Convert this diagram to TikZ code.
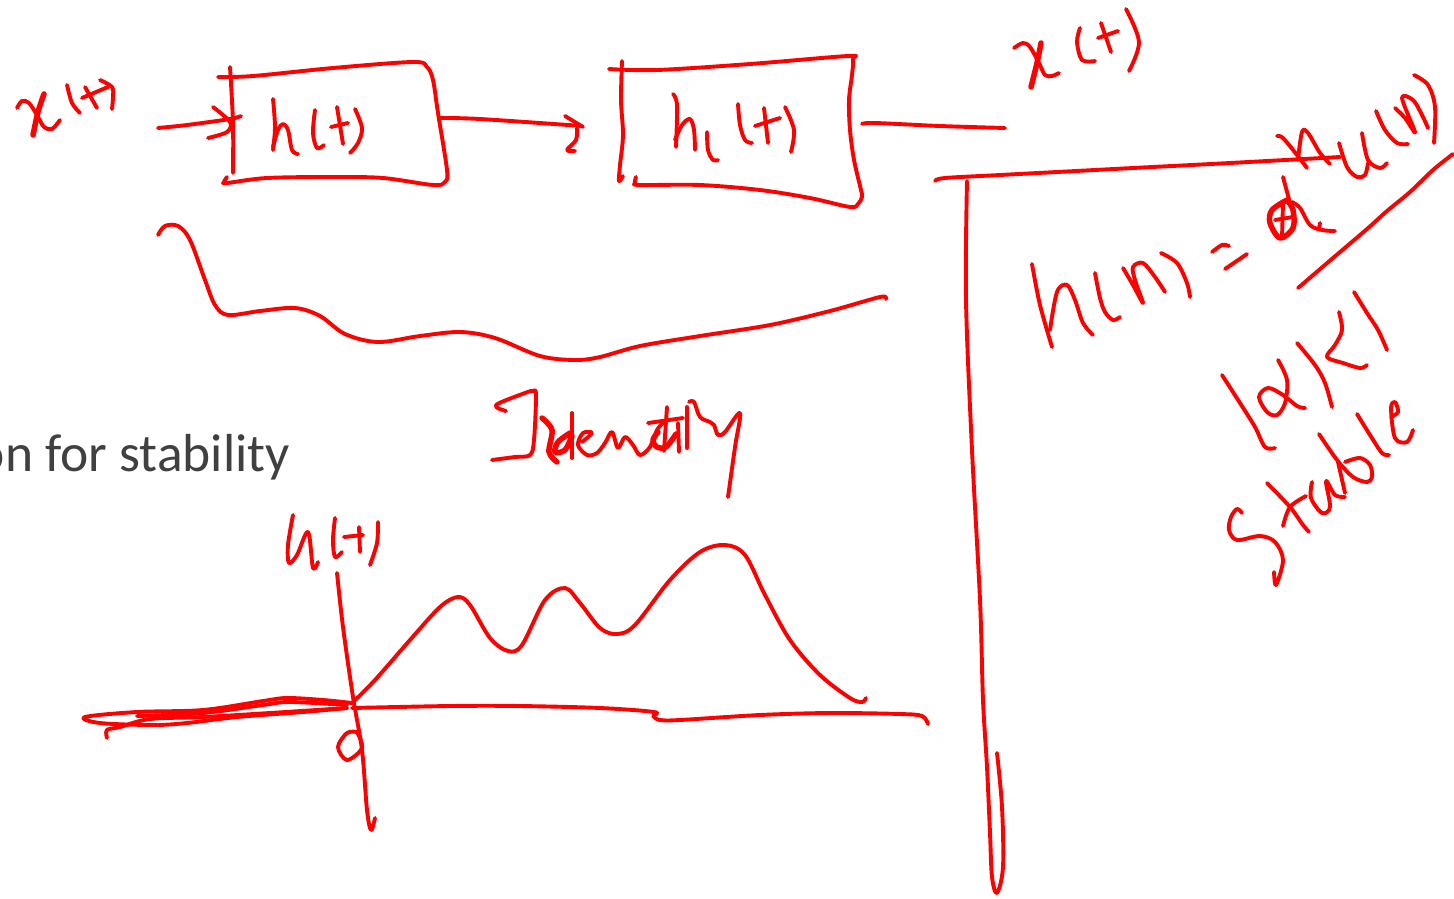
\documentclass[tikz,border=0pt]{standalone}
\usepackage{fontspec}
\setmainfont{Carlito}
\definecolor{inkred}{RGB}{255,0,0}
\definecolor{slidegray}{RGB}{64,64,64}
\tikzset{
  inkstroke/.style={draw=inkred,line width=3.9pt,line cap=round,line join=round},
  inkthick/.style={inkstroke,line width=5.5pt},
  slidetext/.style={text=slidegray,font=\fontsize{53.5}{58}\selectfont,inner sep=0pt}
}
\newcommand\ink[1]{\draw[inkstroke] plot[smooth,tension=.55] coordinates {#1};}
\newcommand\inkb[1]{\draw[inkthick] plot[smooth,tension=.55] coordinates {#1};}
\begin{document}
\begin{tikzpicture}[x=1pt,y=-1pt]
\useasboundingbox (0,0) rectangle (1454,898);
\node[slidetext,anchor=base east] (slideline) at (290,471) {on for stability};
% x(t) left
\ink{(17,108)(22,101)(29,103)(37,115)(44,127)(52,129)(60,120)}
\inkb{(44,94)(38,112)(33,135)}
\ink{(67,85)(72,103)(80,113)}
\ink{(82,98)(108,87)}
\ink{(85,87)(97,108)}
\ink{(100,80)(112,87)(113,97)(112,109)}
% input arrow
\ink{(158,128)(187,125)(230,119)(241,116)}
\ink{(213,107)(230,122)(227,132)(208,138)}
% box h
\ink{(218,77)(253,76)(333,68)(413,62)(427,67)(433,80)(438,113)(447,170)(445,182)(433,185)(383,178)(333,177)(267,178)(227,183)(224,182)(227,177)}
\ink{(230,67)(233,123)(233,173)}
\ink{(273,99)(275,127)(273,150)}
\ink{(273,147)(278,130)(283,124)(288,130)(292,150)(298,154)}
\ink{(315,110)(313,133)(317,148)(324,145)}
\ink{(331,127)(348,123)}
\ink{(337,107)(343,144)}
\ink{(355,109)(362,128)(358,143)(350,153)}
% middle arrow
\ink{(440,118)(480,119)(582,126)}
\ink{(565,116)(583,127)}
\ink{(577,128)(576,140)(567,150)(575,151)}
% box h1
\ink{(609,69)(657,70)(750,64)(848,56)(853,59)(852,75)(849,100)(850,130)(854,160)(861,190)(862,197)(858,204)(850,207)(810,198)(760,190)(700,185)(640,185)(635,183)(636,177)}
\ink{(622,61)(621,100)(623,135)(620,165)(619,181)(623,176)}
\ink{(673,94)(677,105)(676,147)}
\ink{(675,140)(682,125)(690,119)(694,130)(695,150)}
\ink{(707,132)(708,150)(713,160)(718,160)}
\ink{(738,104)(740,125)(745,140)(752,143)}
\ink{(755,126)(780,118)}
\ink{(764,108)(768,143)}
\ink{(785,107)(794,130)(791,152)}
\ink{(862,124)(875,123)(940,126)(1005,128)}
% x(t) right
\ink{(1014,48)(1023,43)(1030,47)(1039,63)(1045,75)(1052,76)(1059,73)}
\inkb{(1041,43)(1037,63)(1031,87)}
\ink{(1080,28)(1077,42)(1082,60)(1095,61)}
\ink{(1098,38)(1118,31)}
\ink{(1101,23)(1111,52)}
\ink{(1126,9)(1139,42)(1129,71)}
% wave
\ink{(158,235)(165,226)(178,226)(190,240)(205,280)(215,305)(228,315)(260,311)(295,308)(320,316)(345,334)(378,342)(420,336)(460,332)(495,338)(540,356)(575,360)(600,357)(640,346)(700,336)(770,325)(830,311)(880,297)(886,299)}
% Identity
\ink{(506,411)(496,405)(525,393)(533,391)(536,395)(534,440)(530,455)(515,457)(492,460)}
\inkb{(542,418)(552,430)(549,452)(557,462)}
\ink{(572,413)(572,458)}
\inkb{(570,433)(558,442)(555,452)(565,450)(572,436)}
\ink{(582,442)(592,433)(583,433)(578,445)(587,455)(597,453)(605,443)(612,432)(618,448)(625,437)(633,445)(640,455)(650,447)(657,430)(663,423)}
\ink{(667,407)(664,451)}
\ink{(648,423)(683,418)}
\inkb{(658,432)(653,440)(657,447)(666,447)(676,434)}
\ink{(678,423)(679,452)}
\ink{(687,407)(687,448)}
\ink{(689,402)(694,402)(700,417)(710,422)(714,425)(718,435)(725,432)(740,413)(735,447)(728,497)}
% u(t)
\ink{(293,515)(288,545)(289,563)(297,555)(308,532)(313,568)(318,562)}
\ink{(335,518)(333,540)(335,557)(342,552)}
\ink{(344,537)(363,535)}
\ink{(359,527)(360,552)}
\ink{(378,522)(377,543)(370,565)}
% axes
\ink{(337,573)(343,627)(353,697)(362,750)(367,810)(371,830)(375,818)}
\ink{(357,732)(347,733)(338,747)(347,760)(362,748)(357,732)}
\ink{(352,703)(323,700)(287,698)(263,701)(203,710)(137,712)(85,717)(100,723)(153,725)(187,723)(237,717)(303,712)(347,708)}
\ink{(347,708)(270,713)(203,717)(150,719)(120,727)(107,730)(107,738)}
\ink{(347,705)(290,702)(263,705)(203,713)(137,716)}
\ink{(352,708)(450,706)(520,706)(600,708)(654,712)(653,716)(660,720)(680,720)(760,715)(830,713)(900,714)(922,716)(928,724)}
\ink{(352,703)(375,680)(410,640)(440,607)(458,597)(470,605)(490,638)(508,651)(522,645)(545,600)(565,588)(580,603)(600,628)(617,634)(635,625)(670,580)(700,552)(725,545)(745,555)(765,595)(790,640)(820,675)(850,698)(862,702)(866,698)}
% big L
\ink{(935,181)(945,178)(1000,175)(1133,168)(1230,163)(1340,157)}
\ink{(967,181)(966,300)(972,450)(980,600)(983,700)(987,767)(990,833)(992,877)(997,893)(1003,867)(1002,807)(997,753)}
% alpha^n u(n)
\ink{(1277,136)(1283,138)(1297,155)(1307,168)}
\ink{(1298,160)(1302,132)(1308,133)(1320,153)(1330,164)}
\ink{(1339,143)(1347,167)(1357,177)(1365,175)(1368,163)}
\ink{(1362,133)(1368,160)(1380,168)(1387,163)}
\ink{(1376,111)(1385,130)(1397,143)(1408,144)}
\ink{(1395,108)(1405,118)(1415,132)(1402,98)(1413,100)(1422,115)(1428,128)}
\ink{(1414,75)(1428,85)(1435,107)(1434,143)}
\ink{(1298,288)(1333,258)(1367,229)(1387,211)(1410,192)(1433,170)(1453,154)}
% h(n) = alpha
\ink{(1283,177)(1290,203)}
\inkb{(1287,200)(1272,210)(1270,223)(1280,238)(1293,228)(1293,210)(1287,200)}
\ink{(1275,220)(1293,217)}
\ink{(1283,203)(1282,238)}
\ink{(1292,202)(1300,208)(1310,225)(1322,230)(1335,231)}
\ink{(1320,223)(1319,229)}
\ink{(1032,264)(1040,305)(1052,347)}
\ink{(1050,330)(1057,292)(1067,285)(1075,300)(1083,323)(1093,335)}
\ink{(1095,273)(1100,298)(1105,312)(1113,320)(1120,317)}
\ink{(1123,268)(1133,285)(1143,303)(1135,280)(1133,267)(1143,263)(1155,277)(1165,292)}
\ink{(1161,253)(1177,263)(1187,283)(1190,297)}
\ink{(1212,252)(1222,245)(1229,246)}
\ink{(1225,269)(1247,254)}
% |alpha|<1
\ink{(1222,375)(1240,403)(1255,427)(1265,447)(1275,448)}
\ink{(1278,360)(1287,380)(1285,403)(1277,415)(1267,412)(1259,397)(1268,388)(1283,395)(1297,406)(1305,408)}
\ink{(1297,343)(1315,365)(1325,383)(1332,407)}
\ink{(1339,312)(1342,330)(1335,345)(1327,357)(1343,363)(1360,368)(1367,365)}
\ink{(1354,292)(1367,313)(1378,330)(1387,350)}
% Stable
\ink{(1242,513)(1237,509)(1231,517)(1229,530)(1237,540)(1260,536)(1275,542)(1283,560)(1276,585)(1274,572)}
\ink{(1267,483)(1290,507)(1303,525)(1309,532)}
\ink{(1306,496)(1290,507)(1283,526)}
\ink{(1312,482)(1311,498)(1322,513)(1330,507)(1326,481)(1335,495)(1345,497)}
\ink{(1319,434)(1337,460)(1353,477)(1367,482)(1372,477)(1370,465)(1360,458)(1345,462)}
\ink{(1338,462)(1345,493)}
\ink{(1357,414)(1370,435)(1382,453)(1389,455)}
\ink{(1391,417)(1398,412)(1395,402)(1391,408)(1395,438)(1407,442)(1413,430)}
\end{tikzpicture}
\end{document}
